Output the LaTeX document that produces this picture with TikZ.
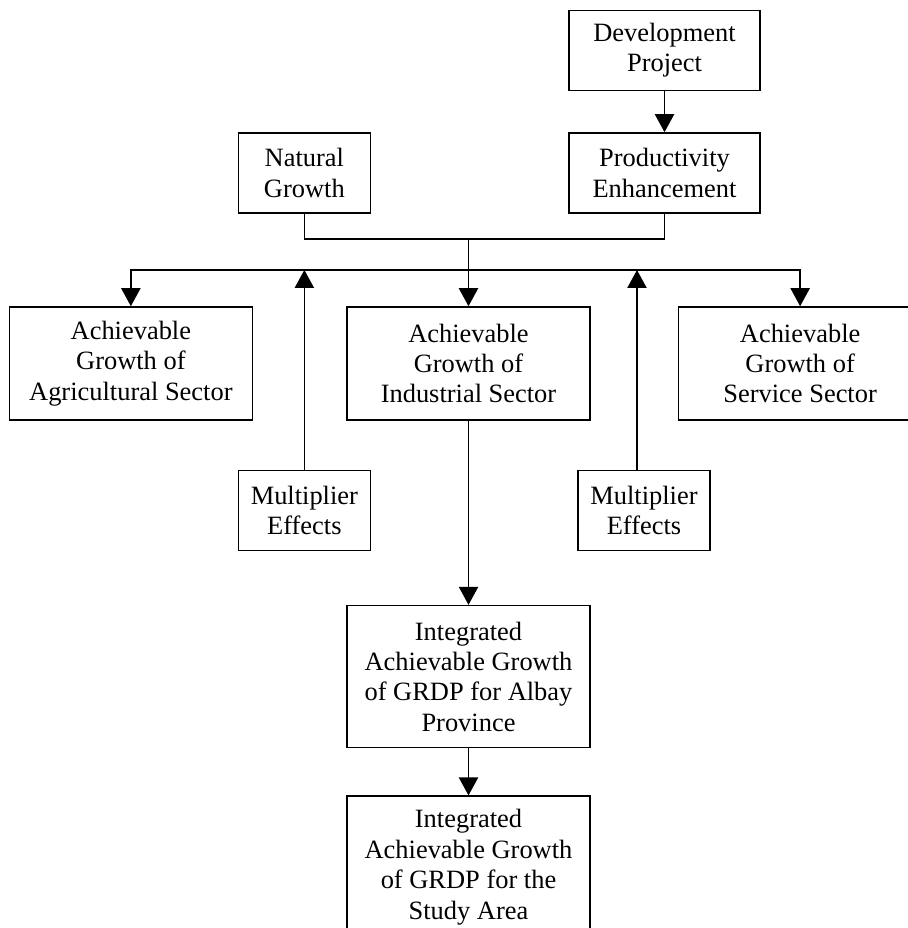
\documentclass[tikz,border=0pt]{standalone}
\usepackage{fontspec}
\setmainfont{Liberation Serif}
\usepackage{tikz}
\usetikzlibrary{arrows.meta,positioning,calc}

\begin{document}
\begin{tikzpicture}[
  x=0.025cm, y=0.025cm,
  box/.style={rectangle, draw, line width=1.1pt, inner sep=0pt, align=center,
              font=\fontsize{18.8}{21.6}\selectfont},
  gbox/.style={box, minimum width=4.775cm, minimum height=2cm},
  nbox/.style={box, minimum width=3.3cm, minimum height=2cm},
  sbox/.style={box, minimum width=6.075cm, minimum height=2.825cm},
  ibox/.style={box, minimum width=6.075cm, minimum height=3.55cm},
  line/.style={line width=1.1pt},
  arr/.style={line, -{Triangle[length=0.45cm, width=0.48cm]}},
]
  \useasboundingbox (0,0) rectangle (908,928);

  % top inputs
  \node[gbox] (prod) at (664.5,755) {Productivity\\Enhancement};
  \node[gbox, above=1.025cm of prod] (dev) {Development\\Project};
  \node[nbox, left=4.925cm of prod] (nat) {Natural\\Growth};

  % sectors
  \node[sbox] (ind) at (468.5,564.5) {Achievable\\Growth of\\Industrial Sector};
  \node[sbox, left=2.325cm of ind] (agri) {Achievable\\Growth of\\Agricultural Sector};
  \node[sbox, right=2.175cm of ind] (serv) {Achievable\\Growth of\\Service Sector};

  % multipliers
  \node[nbox, below=6.4cm of nat] (mulA) {Multiplier\\Effects};
  \node[nbox, right=5.15cm of mulA] (mulB) {Multiplier\\Effects};
  \coordinate (mulBtop) at ($(mulB.north)+(-7,0)$);

  % integrated results
  \node[ibox, below=4.6cm of ind] (albay) {Integrated\\Achievable Growth\\of GRDP for Albay\\Province};
  \node[ibox, below=1.175cm of albay] (study) {Integrated\\Achievable Growth\\of GRDP for the\\Study Area};

  \coordinate (junc) at (468.5,689);
  \coordinate (dist) at (468.5,658);

  \draw[arr] (dev) -- (prod);
  \draw[line] (nat.south) |- (junc) -| (prod.south);
  \draw[arr] (junc) -- (ind);
  \draw[arr] (dist) -| (agri.north);
  \draw[arr] (dist) -| (serv.north);
  \draw[arr] (mulA.north) -- (mulA |- dist);
  \draw[arr] (mulBtop) -- (mulBtop |- dist);
  \draw[arr] (ind) -- (albay);
  \draw[arr] (albay) -- (study);
\end{tikzpicture}
\end{document}
